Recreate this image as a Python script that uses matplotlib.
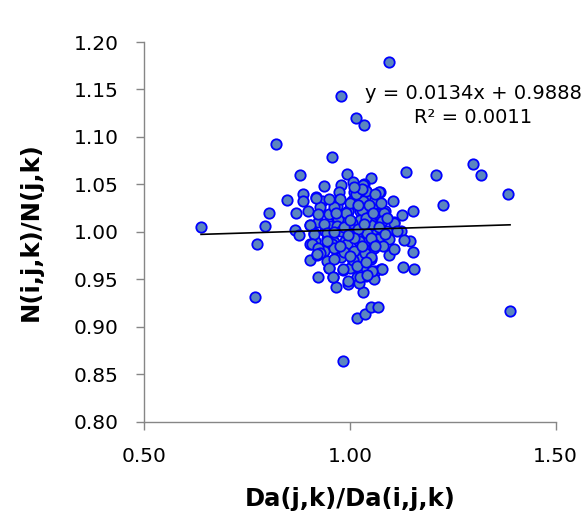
import numpy as np
import matplotlib.pyplot as plt

plt.rcParams['font.family'] = ['DejaVu Sans']

# ratio Da(j,k)/Da(i,j,k) against N(i,j,k)/N(j,k)
da_ratio = [
    1.096, 0.977, 1.015, 1.033, 0.819, 0.956, 0.878, 1.136, 1.208, 1.300,
    1.319, 1.383, 1.226, 0.638, 0.802, 0.794, 0.774, 0.769, 1.389, 0.984,
    1.017, 1.036, 1.051, 1.067, 1.031, 0.848, 0.885, 0.887, 0.869, 0.867,
    0.877, 0.904, 0.923, 0.966, 0.995, 1.129, 1.156, 1.152, 1.146, 1.154,
    1.126, 1.105, 1.073, 1.051, 0.992, 0.936, 1.095, 1.076,
    1.007, 0.979, 1.033, 1.040, 1.071, 1.009, 0.973, 0.918, 0.932, 0.974,
    1.004, 1.025, 1.050, 1.065, 0.898, 0.948, 0.928, 0.996, 1.025, 1.059,
    1.069, 1.086, 0.968, 1.041, 0.904, 0.923, 0.968, 1.004, 1.050, 1.077,
    1.106, 0.985, 1.025, 0.952, 0.968, 0.912, 0.940, 0.996, 1.041, 1.062,
    1.090, 1.123, 1.021, 1.065, 1.094, 1.131, 0.987, 0.944, 0.915, 0.904,
    0.960, 1.041, 1.106, 0.964, 0.919, 1.058, 1.033, 1.000, 0.936, 0.985,
    1.007, 1.050, 1.021, 0.977, 0.950, 0.983, 1.062, 0.944, 1.000, 1.033,
    1.077, 0.959, 1.040, 1.017, 1.021, 1.058,
    1.032, 1.038, 0.975, 1.006, 1.032, 1.062, 0.917, 0.971, 0.996, 1.028,
    1.069, 1.083, 0.960, 0.923, 0.902, 0.936, 0.969, 1.006, 1.051, 1.077,
    1.108, 0.912, 0.944, 0.977, 1.017, 1.041, 1.069, 1.114, 0.908, 0.923,
    0.956, 0.992, 1.021, 1.058, 1.081, 0.927, 0.960, 0.985, 1.009, 1.037,
    0.919, 0.960, 1.007, 1.050, 0.950, 0.982, 1.017, 1.054, 0.959, 0.996,
    1.025, 1.041,
    1.000, 1.015, 1.030, 1.045, 1.060, 0.990, 1.020, 1.040, 1.055, 1.070,
    0.985, 1.000, 1.020, 1.035, 1.050, 1.010, 0.995, 1.060, 1.030, 0.960,
    0.965, 0.950, 1.075, 1.085, 1.000, 0.975, 1.040, 1.090, 0.945, 1.010,
]
n_ratio = [
    1.179, 1.143, 1.120, 1.113, 1.093, 1.079, 1.060, 1.063, 1.060, 1.071,
    1.060, 1.040, 1.028, 1.005, 1.020, 1.006, 0.987, 0.931, 0.917, 0.864,
    0.909, 0.913, 0.921, 0.921, 0.937, 1.034, 1.040, 1.033, 1.020, 1.002,
    0.997, 0.970, 0.952, 0.942, 0.945, 0.963, 0.961, 0.979, 0.990, 1.022,
    1.018, 1.032, 1.042, 1.057, 1.061, 1.048, 0.976, 0.961,
    1.052, 1.049, 1.050, 1.043, 1.042, 1.042, 1.042, 1.037, 1.032, 1.034,
    1.033, 1.035, 1.036, 1.033, 1.022, 1.019, 1.026, 1.022, 1.022, 1.029,
    1.020, 1.022, 1.027, 1.026, 1.007, 1.010, 1.012, 1.010, 1.010, 1.012,
    1.010, 1.015, 1.013, 1.006, 1.001, 0.999, 1.001, 1.001, 1.001, 1.003,
    1.001, 1.001, 0.990, 0.992, 0.992, 0.991, 0.990, 0.992, 0.990, 0.987,
    0.989, 0.989, 0.982, 0.983, 0.976, 0.983, 0.982, 0.980, 0.980, 0.978,
    0.969, 0.971, 0.971, 0.973, 0.962, 0.960, 0.959, 0.969, 0.962, 0.964,
    0.961, 0.952, 0.953, 0.952, 0.946, 0.950,
    1.049, 1.043, 1.035, 1.033, 1.032, 1.035, 1.036, 1.014, 1.022, 1.023,
    1.019, 1.020, 1.026, 1.019, 1.007, 1.008, 1.006, 1.009, 1.007, 1.011,
    1.009, 0.998, 0.999, 1.001, 0.999, 0.999, 0.992, 1.001, 0.987, 0.983,
    0.987, 0.987, 0.990, 0.987, 0.985, 0.978, 0.983, 0.979, 0.980, 0.978,
    0.977, 0.971, 0.970, 0.973, 0.962, 0.961, 0.964, 0.959, 0.952, 0.948,
    0.952, 0.955,
    1.030, 1.040, 1.045, 1.028, 1.040, 1.020, 1.028, 1.015, 1.020, 1.005,
    1.005, 1.012, 1.003, 1.008, 0.994, 0.993, 0.997, 0.985, 0.985, 1.000,
    1.020, 1.035, 1.030, 0.998, 0.975, 0.985, 0.968, 1.015, 0.990, 1.047,
]

# linear trendline coefficients
slope = 0.0134
intercept = 0.9888
r2 = 0.0011

fig, ax = plt.subplots(figsize=(5.86, 5.13), dpi=100)
fig.subplots_adjust(left=0.2462, right=0.9483, bottom=0.178, top=0.9181)

ax.scatter(da_ratio, n_ratio, s=56, facecolor='#5b86bf', edgecolor='#0000ff',
           linewidths=1.3, zorder=3, clip_on=False)

xs = np.array([min(da_ratio), max(da_ratio)])
ax.plot(xs, slope * xs + intercept, color='black', lw=1.2, zorder=4)

ax.text(1.299, 1.133, 'y = %.4fx + %.4f\nR² = %.4f' % (slope, intercept, r2),
        ha='center', va='center', multialignment='center', fontsize=14,
        linespacing=1.35, zorder=5)

ax.set_xlim(0.5, 1.5)
ax.set_ylim(0.8, 1.2)
ax.set_xticks([0.5, 1.0, 1.5])
ax.set_yticks(np.arange(0.8, 1.2001, 0.05))
ax.xaxis.set_major_formatter(plt.FormatStrFormatter('%.2f'))
ax.yaxis.set_major_formatter(plt.FormatStrFormatter('%.2f'))

for side in ['top', 'right']:
    ax.spines[side].set_visible(False)
for side in ['left', 'bottom']:
    ax.spines[side].set_color('#868686')
    ax.spines[side].set_linewidth(1.0)
ax.tick_params(axis='both', direction='out', length=5.5, width=1.0,
               color='#868686', labelsize=14.5, pad=13)

ax.set_xlabel('Da(j,k)/Da(i,j,k)', fontsize=17.5, fontweight='bold', labelpad=15)
ax.set_ylabel('N(i,j,k)/N(j,k)', fontsize=17.5, fontweight='bold', labelpad=22)

fig.savefig('out.png', dpi=100)
